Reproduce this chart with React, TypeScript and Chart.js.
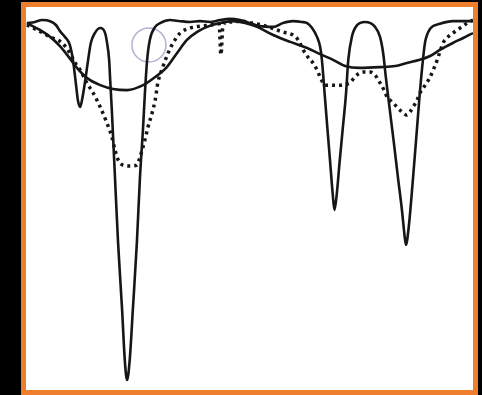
import React, { useEffect, useRef } from "react";
import { Chart, registerables } from "chart.js";

Chart.register(...registerables);

// Sharp solid trace (x: position %, y: signal %)
const sharpX = [0.2, 2.0, 3.6, 5.4, 6.7, 7.6, 8.7, 9.8, 10.5, 11.2, 11.6, 12.1, 12.5, 13.2, 13.9, 14.5, 15.4, 16.6, 17.7, 18.1, 18.6, 18.8, 19.2, 19.9, 20.6, 21.5, 22.1, 22.6, 23.2, 23.9, 24.8, 25.5, 26.2, 26.6, 27.1, 27.7, 28.9, 30.0, 32.2, 34.5, 36.7, 38.9, 41.2, 43.4, 45.6, 47.9, 50.1, 52.3, 55.3, 57.5, 59.7, 61.7, 62.9, 64.0, 65.1, 65.8, 66.2, 66.8, 67.4, 68.0, 68.6, 69.0, 69.5, 70.2, 70.9, 71.6, 72.1, 72.9, 74.1, 75.8, 78.1, 79.2, 79.9, 80.5, 81.2, 82.3, 83.2, 84.1, 84.6, 85.0, 85.6, 86.6, 87.5, 88.1, 88.8, 89.3, 90.4, 92.6, 95.5, 100];
const sharpY = [95.8, 96.1, 96.6, 96.3, 95.3, 93.7, 92.2, 90.1, 86.2, 79.6, 75.7, 73.9, 75.5, 80.4, 86.2, 90.6, 93.2, 94.5, 93.2, 90.9, 86.2, 81.7, 73.1, 55.6, 38.4, 20.9, 7.8, 2.6, 7.8, 20.9, 38.4, 55.6, 68.7, 77.5, 86.2, 91.4, 94.8, 95.8, 96.6, 96.3, 96.1, 96.3, 96.1, 96.6, 96.9, 96.6, 95.8, 95.0, 94.8, 95.8, 96.3, 96.1, 95.8, 94.5, 92.2, 89.6, 86.2, 77.5, 68.7, 60.1, 51.4, 47.0, 50.9, 60.1, 68.7, 77.5, 86.2, 92.2, 95.3, 96.1, 94.8, 92.2, 88.0, 81.7, 74.9, 64.5, 55.6, 47.0, 41.3, 37.9, 42.3, 55.6, 68.7, 77.5, 86.2, 90.9, 94.3, 95.6, 96.3, 96.3];

// Smooth solid trace
const smoothX = [0.2, 3.1, 5.4, 7.6, 9.2, 11.4, 13.6, 16.6, 19.5, 22.6, 26.2, 28.9, 31.5, 33.8, 36.0, 38.3, 40.5, 43.4, 46.3, 49.0, 51.7, 55.3, 59.1, 62.9, 65.8, 68.7, 71.4, 74.7, 79.2, 82.6, 85.2, 88.1, 90.4, 92.6, 95.5, 97.8, 100];
const smoothY = [95.8, 94.0, 92.2, 89.8, 87.5, 84.1, 81.5, 79.6, 78.6, 78.3, 79.6, 81.7, 84.3, 88.0, 91.4, 93.5, 94.8, 95.8, 96.3, 95.8, 94.8, 92.7, 90.9, 89.3, 87.7, 86.2, 84.6, 84.1, 84.3, 84.6, 85.4, 86.2, 87.2, 88.8, 90.6, 91.9, 93.2];

// Dotted trace
const dottedX = [0.2, 2.5, 5.4, 8.1, 9.8, 11.0, 12.1, 13.6, 14.9, 16.6, 18.1, 19.2, 19.9, 20.6, 21.7, 23.3, 24.8, 25.5, 26.6, 27.3, 28.2, 28.9, 29.5, 30.6, 31.8, 32.9, 34.5, 36.7, 38.9, 41.2, 43.2, 43.6, 44.1, 46.1, 48.3, 50.6, 52.8, 55.0, 57.3, 59.7, 60.9, 62.0, 63.1, 64.2, 65.1, 65.8, 66.9, 68.7, 70.2, 71.6, 72.5, 73.4, 74.3, 75.6, 77.0, 78.1, 79.2, 80.1, 80.8, 81.9, 83.0, 84.1, 85.2, 85.9, 86.6, 87.5, 88.1, 89.3, 90.4, 91.3, 92.0, 92.6, 93.3, 94.4, 95.5, 97.1, 98.7, 100];
const dottedY = [95.3, 94.0, 92.2, 90.6, 88.0, 85.4, 83.6, 80.2, 77.8, 73.9, 69.7, 66.1, 62.7, 60.1, 58.7, 58.5, 58.7, 60.8, 65.3, 68.7, 72.3, 75.7, 80.2, 84.3, 88.0, 90.6, 93.2, 94.5, 95.0, 95.3, 95.6, 87.5, 95.6, 96.1, 96.3, 95.8, 95.3, 94.5, 93.5, 92.7, 91.4, 88.8, 86.9, 85.4, 83.6, 81.7, 79.6, 79.6, 79.6, 79.9, 80.2, 81.5, 82.5, 83.0, 83.0, 82.2, 80.2, 78.3, 76.5, 75.2, 73.9, 72.6, 71.8, 72.6, 73.9, 75.7, 77.5, 79.6, 81.7, 84.1, 86.2, 88.3, 90.6, 92.2, 93.2, 94.5, 95.8, 96.6];

// Annotation circle
const markerX = [27.5];
const markerY = [90.1];

const zip = (xs: number[], ys: number[]) => xs.map((x, i) => ({ x, y: ys[i] }));

export default function App() {
  const ref = useRef<HTMLCanvasElement | null>(null);

  useEffect(() => {
    if (!ref.current) return;
    const ink = "#161616";
    const chart = new Chart(ref.current, {
      type: "line",
      data: {
        datasets: [
          {
            data: zip(sharpX, sharpY),
            borderColor: ink,
            borderWidth: 2.6,
            pointRadius: 0,
            cubicInterpolationMode: "monotone",
            fill: false,
          },
          {
            data: zip(smoothX, smoothY),
            borderColor: ink,
            borderWidth: 2.6,
            pointRadius: 0,
            cubicInterpolationMode: "monotone",
            fill: false,
          },
          {
            data: zip(dottedX, dottedY),
            borderColor: ink,
            borderWidth: 3.5,
            borderDash: [3, 4],
            borderCapStyle: "butt",
            pointRadius: 0,
            cubicInterpolationMode: "monotone",
            fill: false,
          },
          {
            data: zip(markerX, markerY),
            showLine: false,
            pointRadius: 17,
            pointBorderWidth: 1.5,
            pointBorderColor: "#b3b3d3",
            pointBackgroundColor: "rgba(0,0,0,0)",
          },
        ],
      },
      options: {
        animation: false,
        responsive: true,
        maintainAspectRatio: false,
        events: [],
        layout: { padding: 0, autoPadding: false },
        plugins: { legend: { display: false }, tooltip: { enabled: false } },
        scales: {
          x: { type: "linear", min: 0, max: 100, display: false },
          y: { type: "linear", min: 0, max: 100, display: false },
        },
      },
    });
    return () => chart.destroy();
  }, []);

  return (
    <div style={{ position: "fixed", left: 0, top: 0, width: 482, height: 395, background: "#000", overflow: "hidden" }}>
      <div
        style={{
          position: "absolute",
          left: 21,
          top: 2,
          width: 447,
          height: 383,
          border: "5px solid #ef7f2f",
          background: "#fff",
        }}
      >
        <canvas ref={ref} />
      </div>
    </div>
  );
}
